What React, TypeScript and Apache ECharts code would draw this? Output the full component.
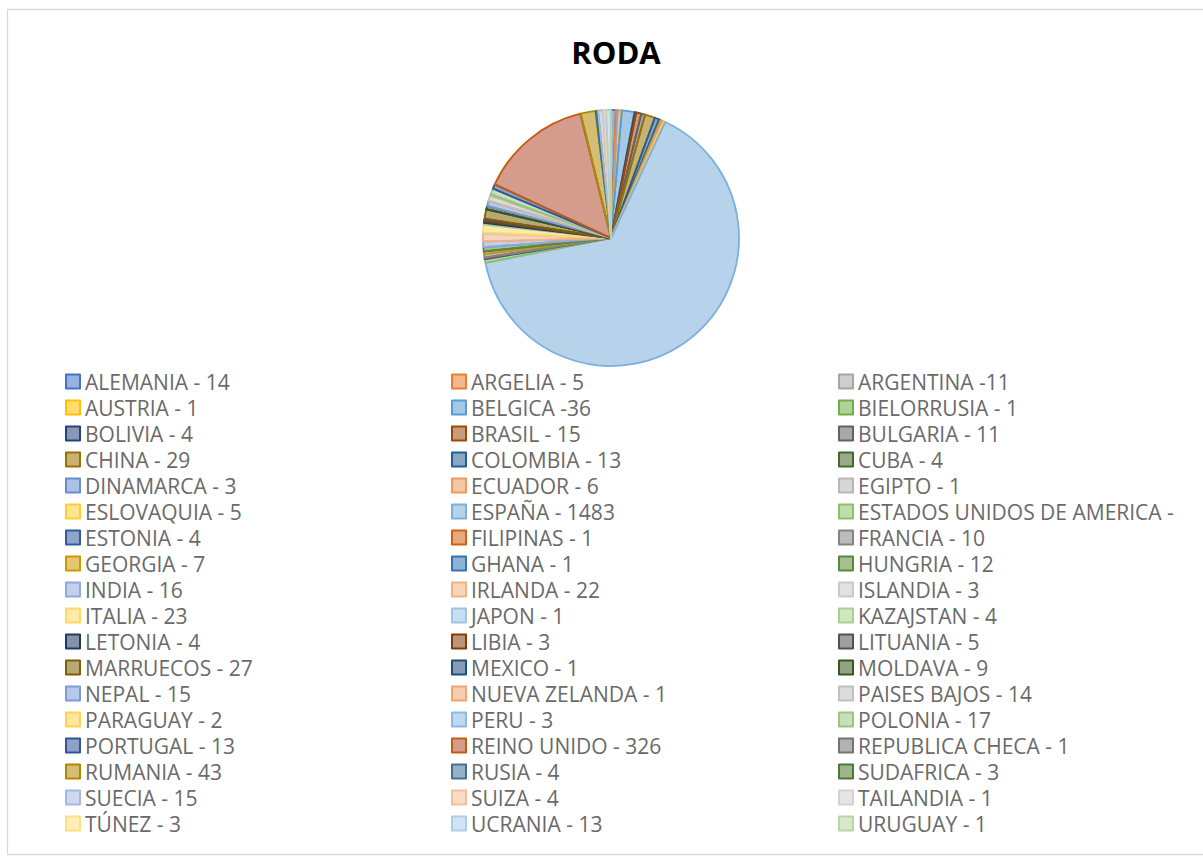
import React, { useEffect, useRef } from "react";
import * as echarts from "echarts";

const countries = [
  "ALEMANIA - 14", "ARGELIA - 5", "ARGENTINA -11",
  "AUSTRIA - 1", "BELGICA -36", "BIELORRUSIA - 1",
  "BOLIVIA - 4", "BRASIL - 15", "BULGARIA - 11",
  "CHINA - 29", "COLOMBIA - 13", "CUBA - 4",
  "DINAMARCA - 3", "ECUADOR - 6", "EGIPTO - 1",
  "ESLOVAQUIA - 5", "ESPAÑA - 1483", "ESTADOS UNIDOS DE AMERICA -",
  "ESTONIA - 4", "FILIPINAS - 1", "FRANCIA - 10",
  "GEORGIA - 7", "GHANA - 1", "HUNGRIA - 12",
  "INDIA - 16", "IRLANDA - 22", "ISLANDIA - 3",
  "ITALIA - 23", "JAPON - 1", "KAZAJSTAN - 4",
  "LETONIA - 4", "LIBIA - 3", "LITUANIA - 5",
  "MARRUECOS - 27", "MEXICO - 1", "MOLDAVA - 9",
  "NEPAL - 15", "NUEVA ZELANDA - 1", "PAISES BAJOS - 14",
  "PARAGUAY - 2", "PERU - 3", "POLONIA - 17",
  "PORTUGAL - 13", "REINO UNIDO - 326", "REPUBLICA CHECA - 1",
  "RUMANIA - 43", "RUSIA - 4", "SUDAFRICA - 3",
  "SUECIA - 15", "SUIZA - 4", "TAILANDIA - 1",
  "TÚNEZ - 3", "UCRANIA - 13", "URUGUAY - 1",
];

const values = [
  14, 5, 11,
  1, 36, 1,
  4, 15, 11,
  29, 13, 4,
  3, 6, 1,
  5, 1483, 10,
  4, 1, 10,
  7, 1, 12,
  16, 22, 3,
  23, 1, 4,
  4, 3, 5,
  27, 1, 9,
  15, 1, 14,
  2, 3, 17,
  13, 326, 1,
  43, 4, 3,
  15, 4, 1,
  3, 13, 1,
];

const palette = [
  "#4472C4", "#ED7D31", "#A5A5A5", "#FFC000", "#5B9BD5", "#70AD47",
  "#264478", "#9E480E", "#636363", "#997300", "#255E91", "#43682B",
  "#698ED0", "#F1975A", "#B7B7B7", "#FFCD33", "#7CAFDD", "#8CC168",
  "#335AA1", "#D26012", "#848484", "#CC9A00", "#3275B3", "#5A8A39",
  "#8FAADC", "#F4B183", "#C9C9C9", "#FFD966", "#9DC3E6", "#A9D18E",
  "#203864", "#843C0C", "#525252", "#7F6000", "#1F4E79", "#385723",
  "#7C9CD6", "#F2A46F", "#C0C0C0", "#FFD34D", "#8CB9E2", "#9BC57E",
  "#2F5597", "#C55A11", "#737373", "#B38600", "#40709B", "#4E7932",
  "#A2B9E2", "#F6BE98", "#D2D2D2", "#FFE080", "#ADCDEA", "#B8D6A3",
];

const fillOverrides: Record<number, string> = { 43: "#B24A2E" };

function rgba(hex: string, a: number) {
  const n = parseInt(hex.slice(1), 16);
  return `rgba(${(n >> 16) & 255},${(n >> 8) & 255},${n & 255},${a})`;
}

export default function App() {
  const ref = useRef<HTMLDivElement>(null);
  useEffect(() => {
    document.body.style.margin = "0";
    const chart = echarts.init(ref.current!, null, { renderer: "svg" });
    const data = countries.map((name, i) => ({
      name,
      value: values[i],
      itemStyle: {
        color: rgba(fillOverrides[i] || palette[i], 0.55),
        borderColor: palette[i],
        borderWidth: 1.8,
      },
    }));
    const cols = [0, 1, 2].map((c) => countries.filter((_, i) => i % 3 === c));
    const colX = [65, 451, 838];
    const legendCommon = {
      orient: "vertical" as const,
      top: 371,
      padding: 0,
      itemWidth: 14,
      itemHeight: 14,
      itemGap: 5,
      itemTextGap: 6,
      icon: "rect",
      selectedMode: false,
      textStyle: {
        fontFamily: "Open Sans",
        fontSize: 21,
        lineHeight: 20,
        color: "#6a6a6a",
      },
    };
    chart.setOption({
      animation: false,
      backgroundColor: "#ffffff",
      title: {
        text: "RODA",
        left: 611,
        top: 29,
        textAlign: "center",
        textStyle: {
          fontFamily: "Open Sans",
          fontWeight: "bold",
          fontSize: 31,
          lineHeight: 36,
          color: "#000000",
        },
      },
      legend: cols.map((d, c) => ({ ...legendCommon, left: colX[c], data: d })),
      graphic: [
        {
          type: "rect",
          shape: { x: 7.5, y: 9.5, width: 1200, height: 845 },
          style: { fill: "none", stroke: "#d9d9d9", lineWidth: 1.3 },
          silent: true,
        },
      ],
      series: [
        {
          type: "pie",
          center: [611, 238],
          radius: 128,
          startAngle: 90,
          clockwise: true,
          label: { show: false },
          labelLine: { show: false },
          emphasis: { disabled: true },
          data,
        },
      ],
    });
    return () => chart.dispose();
  }, []);
  return <div ref={ref} style={{ width: 1203, height: 856 }} />;
}
